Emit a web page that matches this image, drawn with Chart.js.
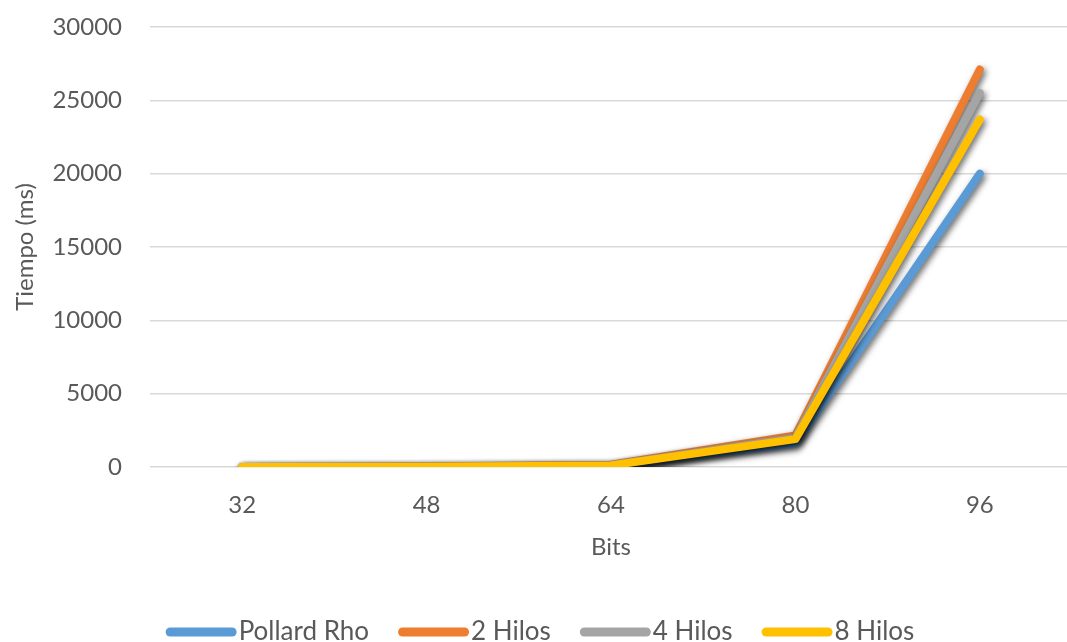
<!DOCTYPE html>
<html>
<head>
<meta charset="utf-8">
<script src="https://cdn.jsdelivr.net/npm/chart.js@4/dist/chart.umd.min.js"></script>
<style>
  html, body { margin: 0; padding: 0; background: #ffffff; overflow: hidden; }
  #wrap { width: 1075px; height: 642px; position: relative; }
</style>
</head>
<body>
<div id="wrap"><canvas id="c"></canvas></div>
<script>
// Execution time (ms) by key size in bits
const bits = ['32', '48', '64', '80', '96'];
const pollardRho = [5, 20, 80, 1600, 20000];
const hilos2 = [8, 30, 150, 2150, 27100];
const hilos4 = [7, 25, 120, 2000, 25500];
const hilos8 = [6, 22, 110, 1900, 23700];
const seriesNames = ['Pollard Rho', '2 Hilos', '4 Hilos', '8 Hilos'];
const yTicks = [0, 5000, 10000, 15000, 20000, 25000, 30000];

const colors = ['#5B9BD5', '#ED7D31', '#A5A5A5', '#FFC000'];
const textColor = '#595959';
const fontFamily = 'Lato, "Open Sans", sans-serif';

// Soft drop shadow under each series line
const lineShadow = {
  id: 'lineShadow',
  beforeDatasetDraw(chart) {
    const ctx = chart.ctx;
    ctx.save();
    ctx.shadowColor = 'rgba(0,0,0,0.6)';
    ctx.shadowBlur = 6;
    ctx.shadowOffsetX = 2;
    ctx.shadowOffsetY = 3;
  },
  afterDatasetDraw(chart) {
    chart.ctx.restore();
  }
};

// Compact bottom legend: rounded line swatch followed closely by the label
const lineLegend = {
  id: 'lineLegend',
  afterDraw(chart) {
    const ctx = chart.ctx;
    const swatchW = 71, swatchH = 9, textGap = 2, itemGap = 29;
    const cy = 632;
    ctx.save();
    ctx.font = '26px ' + fontFamily;
    ctx.textBaseline = 'middle';
    ctx.textAlign = 'left';
    const items = chart.data.datasets.map(ds => ({
      text: ds.label, color: ds.borderColor, w: ctx.measureText(ds.label).width
    }));
    const total = items.reduce((s, it) => s + swatchW + textGap + it.w, 0) + itemGap * (items.length - 1);
    let x = 540 - total / 2;
    items.forEach(it => {
      ctx.fillStyle = it.color;
      ctx.beginPath();
      ctx.roundRect(x, cy - swatchH / 2, swatchW, swatchH, swatchH / 2);
      ctx.fill();
      x += swatchW + textGap;
      ctx.fillStyle = textColor;
      ctx.fillText(it.text, x, cy);
      x += it.w + itemGap;
    });
    ctx.restore();
  }
};

const seriesValues = [pollardRho, hilos2, hilos4, hilos8];
const datasets = seriesValues.map((vals, i) => ({
  label: seriesNames[i],
  data: vals,
  borderColor: colors[i],
  backgroundColor: colors[i],
  borderWidth: 8,
  borderCapStyle: 'round',
  borderJoinStyle: 'round',
  pointRadius: 0,
  tension: 0,
  fill: false,
  order: seriesValues.length - i // later series drawn on top
}));

new Chart(document.getElementById('c'), {
  type: 'line',
  data: { labels: bits, datasets },
  plugins: [lineShadow, lineLegend],
  options: {
    responsive: true,
    maintainAspectRatio: false,
    animation: false,
    layout: { padding: { top: 27, right: 3, left: 0, bottom: 34 } },
    plugins: {
      tooltip: { enabled: false },
      legend: { display: false }
    },
    scales: {
      x: {
        offset: true,
        grid: { display: false, drawTicks: false },
        border: { display: false },
        ticks: { color: textColor, font: { family: fontFamily, size: 24 }, padding: 24 },
        title: {
          display: true,
          text: 'Bits',
          color: textColor,
          font: { family: fontFamily, size: 24 },
          padding: { top: 15, bottom: 46 }
        },
        afterFit(scale) { scale.height = 141; scale.paddingLeft = 0; scale.paddingRight = 0; }
      },
      y: {
        min: 0,
        max: 30000,
        afterBuildTicks(scale) { scale.ticks = yTicks.map(v => ({ value: v })); },
        grid: { color: '#D9D9D9', lineWidth: 1.5, drawTicks: false },
        border: { display: false },
        ticks: {
          color: textColor,
          font: { family: fontFamily, size: 24 },
          padding: 28,
          callback: v => String(v)
        },
        title: {
          display: true,
          text: 'Tiempo (ms)',
          color: textColor,
          font: { family: fontFamily, size: 24 },
          padding: { top: 11, bottom: 0 }
        },
        afterFit(scale) { scale.width = 150; scale.paddingTop = 0; scale.paddingBottom = 0; }
      }
    }
  }
});
</script>
</body>
</html>
